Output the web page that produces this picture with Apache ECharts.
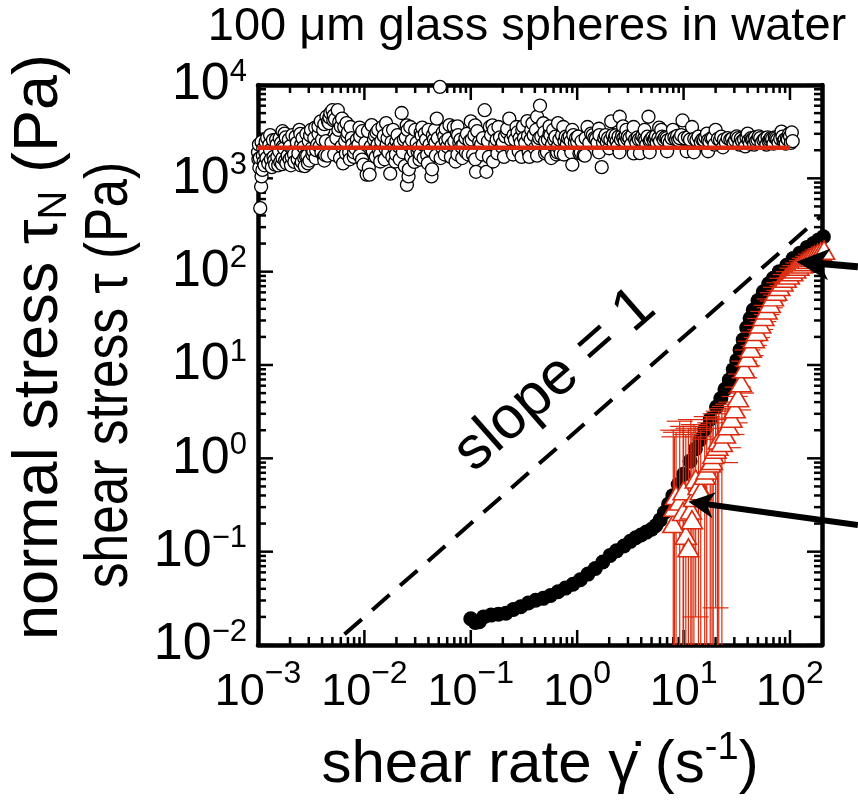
<!DOCTYPE html>
<html lang="en">
<head>
<meta charset="UTF-8">
<title>100 um glass spheres in water</title>
<script src="https://cdn.jsdelivr.net/npm/echarts@6/dist/echarts.min.js"></script>
<style>html, body { margin: 0; padding: 0; background: #fff; }</style>
</head>
<body>
<div id="chart" style="width: 858px; height: 808px"></div>
<script>
  const RED = '#dc2a0e';
  const NARROW = "'Liberation Sans Narrow', 'Liberation Sans', Arial, sans-serif";
  const SANS = "'Liberation Sans', Arial, sans-serif";

  const xRange = [0.001, 200];
  const yRange = [0.01, 10000];
  const xMajor = [0.001, 0.01, 0.1, 1, 10, 100];
  const yMajor = [0.01, 0.1, 1, 10, 100, 1000, 10000];

  // normal stress, open circles [shear rate, stress]
  const normalStress = [
    [0.00100, 1905], [0.00101, 1600], [0.00102, 2300], [0.00103, 1300], [0.00104, 1650], [0.00105, 479],
    [0.00107, 813], [0.00108, 1047], [0.00110, 1230], [0.00108, 2455], [0.00112, 2089], [0.00111, 1750],
    [0.00113, 1500], [0.00115, 1380], [0.00117, 1900], [0.00118, 2455], [0.00120, 1650], [0.00122, 2700],
    [0.00125, 1445], [0.00128, 2300], [0.00130, 2000], [0.00130, 2900], [0.00132, 1600], [0.00135, 1318],
    [0.00138, 2570], [0.00140, 1700], [0.00142, 1550], [0.00145, 1400], [0.00148, 2600], [0.00150, 2300],
    [0.00152, 1700], [0.00155, 1380], [0.00158, 1950], [0.00160, 2692], [0.00162, 1500], [0.00165, 2400],
    [0.00168, 1420], [0.00170, 1650], [0.00170, 3200], [0.00172, 2200], [0.00175, 2100], [0.00178, 3020],
    [0.00180, 1550], [0.00182, 2750], [0.00185, 1450], [0.00190, 1750], [0.00195, 2600], [0.00198, 1600],
    [0.00200, 2200], [0.00204, 1380], [0.00207, 1700], [0.00210, 2900], [0.00215, 1950], [0.00218, 1800],
    [0.00220, 1500], [0.00226, 2800], [0.00232, 2400], [0.00236, 1600], [0.00240, 1850], [0.00245, 3311],
    [0.00250, 3000], [0.00251, 1380], [0.00255, 2300], [0.00258, 1500], [0.00262, 2700], [0.00268, 2150],
    [0.00272, 1650], [0.00275, 1349], [0.00280, 1750], [0.00285, 3000], [0.00290, 1750], [0.00295, 1445],
    [0.00300, 2500], [0.00305, 1550], [0.00309, 2884], [0.00315, 3300], [0.00320, 2100], [0.00325, 1800],
    [0.00331, 1950], [0.00338, 2700], [0.00345, 3500], [0.00348, 1650], [0.00352, 2000], [0.00360, 2300],
    [0.00370, 3000], [0.00370, 3600], [0.00380, 2200], [0.00389, 4074], [0.00395, 1900], [0.00400, 2600],
    [0.00410, 3300], [0.00415, 1700], [0.00420, 1550], [0.00420, 3800], [0.00427, 1778], [0.00435, 2500],
    [0.00440, 4571], [0.00450, 1750], [0.00455, 4074], [0.00465, 3900], [0.00470, 4500], [0.00479, 5012],
    [0.00490, 2400], [0.00501, 5370], [0.00510, 4200], [0.00515, 4700], [0.00520, 1800], [0.00530, 4300],
    [0.00545, 2700], [0.00562, 5370], [0.00570, 3300], [0.00580, 4000], [0.00590, 1650], [0.00600, 3600],
    [0.00610, 2200], [0.00617, 4365], [0.00630, 1445], [0.00646, 3548], [0.00660, 2500], [0.00670, 1850],
    [0.00680, 3900], [0.00692, 2818], [0.00700, 3100], [0.00720, 1900], [0.00730, 1600], [0.00741, 3548],
    [0.00760, 2700], [0.00770, 2300], [0.00794, 1698], [0.00800, 1900], [0.00820, 2100], [0.00850, 2600],
    [0.00880, 2300], [0.00900, 1750], [0.00900, 3500], [0.00912, 2818], [0.0095, 1585], [0.00955, 3200],
    [0.00980, 1400],
    [0.0102, 2400], [0.0105, 1096], [0.0108, 3200], [0.0110, 1300], [0.0112, 1096], [0.0115, 2200],
    [0.0117, 3715], [0.0120, 1950], [0.0123, 2600], [0.0126, 2884], [0.0128, 1700], [0.0130, 3100],
    [0.0133, 2300], [0.0135, 3300], [0.0137, 2000], [0.0140, 1800], [0.0141, 1514], [0.0144, 2500],
    [0.0148, 3548], [0.0152, 2850], [0.0155, 1600], [0.0158, 2089], [0.0160, 3900], [0.0162, 2300],
    [0.0165, 2700], [0.0168, 1900], [0.0170, 3200], [0.0175, 1122], [0.0180, 2450], [0.0183, 1700],
    [0.0186, 3311], [0.0190, 2150], [0.0195, 1514], [0.0198, 1800], [0.0200, 2500], [0.0205, 2900],
    [0.0210, 2200], [0.0215, 1600], [0.0217, 2400], [0.0224, 5012], [0.0230, 1900], [0.0235, 2600],
    [0.0240, 1350], [0.0245, 2750], [0.0250, 3700], [0.0251, 851], [0.0255, 3300], [0.0260, 1047],
    [0.0262, 1250], [0.0265, 2250], [0.0270, 3548], [0.0275, 1700], [0.0280, 2550], [0.0290, 1950],
    [0.0295, 1500], [0.0300, 3300], [0.0310, 2400], [0.0316, 1950], [0.0323, 2100], [0.0330, 1585],
    [0.0335, 1800], [0.0338, 3100], [0.0345, 2884], [0.0350, 3500], [0.0355, 2300], [0.0360, 1650],
    [0.0370, 3020], [0.0380, 2600], [0.0389, 1778], [0.0395, 1450], [0.0400, 3300], [0.0410, 2300],
    [0.0420, 2000], [0.0427, 1047], [0.0432, 1250], [0.0440, 2900], [0.0450, 2600], [0.0460, 3300],
    [0.0465, 2400], [0.0470, 1750], [0.0479, 4365], [0.0490, 2700], [0.0513, 9550], [0.0520, 1650],
    [0.0530, 2188], [0.0545, 3100], [0.0562, 2818], [0.0570, 1800], [0.0580, 2500], [0.0580, 3400],
    [0.0600, 2200], [0.0615, 2650], [0.0631, 3715], [0.0650, 1700], [0.0660, 2300], [0.0692, 3548],
    [0.0700, 2500], [0.0720, 1514], [0.0741, 3020], [0.0750, 1800], [0.0750, 3600], [0.0760, 2900],
    [0.0780, 2400], [0.0800, 2600], [0.0813, 2188], [0.0830, 1650], [0.0850, 2300], [0.0891, 2692],
    [0.0900, 1900], [0.0920, 3000], [0.0950, 1800], [0.0975, 2500],
    [0.100, 4074], [0.102, 2600], [0.105, 1778], [0.108, 2900], [0.110, 1600], [0.110, 3700],
    [0.112, 1175], [0.115, 3200], [0.120, 2455], [0.125, 2300], [0.128, 1800], [0.130, 2700],
    [0.135, 5370], [0.140, 1175], [0.145, 2500], [0.148, 1700], [0.151, 3548], [0.155, 2900],
    [0.160, 3700], [0.162, 1514], [0.165, 3300], [0.170, 2300], [0.175, 2600], [0.178, 1850],
    [0.182, 3548], [0.188, 2750], [0.195, 2188], [0.200, 2400], [0.205, 1700], [0.210, 2818],
    [0.220, 3100], [0.220, 3400], [0.230, 4365], [0.238, 2600], [0.245, 1950], [0.250, 1800],
    [0.252, 2900], [0.260, 2600], [0.269, 3548], [0.275, 3100], [0.282, 1950], [0.288, 2700],
    [0.295, 2400], [0.300, 1700], [0.305, 3300], [0.310, 3600], [0.316, 2700], [0.325, 2400],
    [0.340, 4100], [0.345, 2850], [0.350, 1900], [0.355, 1700], [0.365, 2600], [0.370, 3300],
    [0.380, 3890], [0.390, 2900], [0.400, 2100], [0.410, 3300], [0.420, 4571], [0.420, 1750],
    [0.430, 2450], [0.440, 2700], [0.447, 6026], [0.460, 2800], [0.480, 3890], [0.490, 3100],
    [0.500, 2500], [0.500, 1850], [0.520, 1905], [0.530, 2600], [0.550, 3020], [0.550, 3600],
    [0.560, 2900], [0.570, 1650], [0.580, 2300], [0.595, 3300], [0.607, 2600], [0.625, 2800],
    [0.640, 1800], [0.650, 1900], [0.660, 2200], [0.660, 3900], [0.680, 2600], [0.700, 1862],
    [0.720, 2900], [0.740, 3548], [0.750, 1800], [0.760, 2500], [0.780, 2800], [0.800, 2300],
    [0.820, 2700], [0.850, 2818], [0.870, 2500], [0.880, 1900], [0.900, 1400], [0.900, 3300],
    [0.920, 2900], [0.950, 2400], [0.975, 2700],
    [1.00, 2455], [1.02, 2800], [1.05, 1862], [1.08, 1900], [1.10, 2500], [1.15, 1778],
    [1.18, 1750], [1.20, 2700], [1.25, 3548], [1.30, 2400], [1.35, 3020], [1.40, 2900],
    [1.45, 2700], [1.50, 2650], [1.55, 2400], [1.60, 1900], [1.60, 3400], [1.62, 2900],
    [1.70, 1318], [1.75, 2400], [1.80, 2700], [1.85, 2900], [1.90, 2455], [1.95, 2700],
    [2.00, 2100], [2.05, 2600], [2.09, 4074], [2.15, 2900], [2.20, 2400], [2.25, 2700],
    [2.30, 2884], [2.35, 2500], [2.40, 2200], [2.45, 2800], [2.50, 1900], [2.51, 4571],
    [2.58, 2600], [2.65, 2884], [2.70, 3600], [2.72, 2700], [2.80, 2500], [2.85, 2850],
    [2.90, 3311], [2.95, 2650], [3.00, 2818], [3.10, 2700], [3.20, 2300], [3.30, 2900],
    [3.39, 3548], [3.40, 1850], [3.50, 2600], [3.60, 2400], [3.70, 2750], [3.80, 2600],
    [3.89, 1862], [4.00, 2600], [4.10, 2850], [4.27, 2700], [4.30, 3300], [4.37, 2550],
    [4.47, 2300], [4.58, 2800], [4.68, 4571], [4.80, 2500], [4.80, 1900], [4.90, 2600],
    [5.10, 2750], [5.25, 2550], [5.37, 2692], [5.50, 2850], [5.60, 2400], [5.80, 2700],
    [5.90, 3500], [6.00, 2500], [6.17, 3311], [6.30, 2800], [6.50, 2600], [6.70, 2750],
    [6.92, 2692], [7.00, 1950], [7.10, 2550], [7.40, 2400], [7.70, 2700], [7.94, 3311],
    [8.20, 2750], [8.50, 2600], [8.70, 2850], [8.91, 2570], [9.20, 2700], [9.50, 2900],
    [9.77, 4169],
    [10.2, 2700], [10.7, 1950], [11.0, 2750], [11.5, 2600], [12.0, 3548], [12.5, 1900],
    [12.6, 2650], [13.2, 2570], [13.8, 2800], [14.5, 2450], [15.0, 2600], [15.5, 2570],
    [16.0, 2750], [16.6, 3020], [17.0, 2550], [17.0, 1950], [17.5, 2450], [18.2, 2692],
    [18.8, 2700], [19.5, 2300], [20.0, 3311], [21.0, 2650], [22.0, 2570], [22.6, 2800],
    [23.4, 2150], [24.0, 2600], [25.0, 2400], [26.0, 2700], [27.5, 2600], [28.5, 2650],
    [29.5, 2400], [30.5, 2550], [31.6, 2818], [32.5, 2700], [33.5, 2300], [34.5, 2650],
    [35.5, 2500], [37.0, 2600], [38.0, 2200], [39.0, 2750], [40.0, 3020], [41.0, 2550],
    [42.0, 2350], [43.0, 2700], [44.0, 2600], [45.0, 2650], [46.0, 2300], [47.0, 2750],
    [48.0, 2500], [49.5, 2600], [51.0, 2818], [52.5, 2700], [54.0, 2400], [56.2, 2570],
    [58.0, 2650], [60.0, 2300], [61.5, 2750], [63.0, 2500], [64.5, 2600], [66.0, 2700],
    [68.0, 2650], [70.0, 2350], [72.0, 2750], [74.1, 2692], [76.0, 2600], [78.0, 2400],
    [81.0, 2650], [83.2, 3162], [85.0, 2800], [87.0, 2500], [89.0, 2600], [91.2, 2350],
    [93.5, 2700], [95.5, 2600], [98.0, 3000], [100, 2818], [102, 2400], [104, 3100], [106, 2500]
  ];

  const normalFit = [[0.001, 2130], [100, 2130]];

  // shear stress, filled circles [shear rate, stress]
  const shearStress = [
    [0.100, 0.0191], [0.110, 0.0174], [0.120, 0.0178], [0.132, 0.0200], [0.155, 0.0209], [0.182, 0.0214],
    [0.214, 0.0219], [0.251, 0.0240], [0.295, 0.0257], [0.347, 0.0282], [0.407, 0.0302], [0.479, 0.0316],
    [0.562, 0.0339], [0.661, 0.0372], [0.776, 0.0407], [0.912, 0.0447], [1.07, 0.0501], [1.26, 0.0575],
    [1.48, 0.0661], [1.74, 0.0776], [2.04, 0.0912], [2.34, 0.102], [2.75, 0.115], [3.16, 0.129],
    [3.55, 0.141], [3.98, 0.151], [4.47, 0.162], [5.01, 0.174], [5.50, 0.191], [6.03, 0.219],
    [6.61, 0.263], [7.24, 0.324], [7.94, 0.398], [8.91, 0.525], [10.0, 0.676], [11.5, 0.933],
    [12.9, 1.26], [14.3, 1.58], [15.8, 2.04], [17.8, 2.63], [20.4, 3.55], [22.4, 4.37],
    [24.5, 5.50], [26.9, 6.92], [29.3, 8.91], [31.6, 11.2], [33.9, 14.5], [36.3, 18.6],
    [39.2, 25.1], [42.2, 31.6], [45.2, 38.9], [50.1, 49.0], [56.2, 61.0], [63.1, 74.1],
    [69.7, 85.1], [79.4, 100], [93.1, 117], [107, 138], [124, 158], [145, 182],
    [166, 200], [186, 219], [206, 237]
  ];

  // normal stress, triangles [shear rate, stress, low, high]
  const redTriangles = [
    [8.0, 0.20, 0.001, 2.0], [8.2, 0.30, 0.001, 1.7], [8.5, 0.40, 0.001, 1.9], [9.2, 0.35, 0.001, 2.5],
    [9.9, 0.27, 0.001, 2.2], [10.0, 0.45, 0.001, 2.0], [10.5, 0.15, 0.001, 1.8], [11.1, 0.11, 0.001, 2.1],
    [11.7, 0.28, 0.001, 2.6], [12.0, 0.22, 0.001, 1.9], [12.5, 0.38, 0.001, 2.3], [13.0, 0.60, 0.02, 2.2],
    [13.8, 0.51, 0.001, 1.7], [14.5, 0.45, 0.001, 2.0], [15.8, 0.66, 0.001, 1.6], [16.5, 0.75, 0.001, 2.8],
    [17.8, 0.89, 0.001, 2.4], [18.5, 0.95, 0.001, 2.1], [19.0, 1.10, 0.001, 2.6], [20.0, 1.25, 0.025, 3.0],
    [20.8, 1.35, 0.001, 2.7], [21.4, 1.57, 0.001, 3.2], [22.9, 1.48, 0.001, 3.4], [24.5, 1.82, 0.9, 3.6],
    [26.3, 2.24, 1.3, 3.8], [28.2, 2.69, 1.8, 4.0], [30.2, 3.39, 2.4, 4.6], [32.4, 4.47, 3.3, 5.8],
    [34.7, 6.46, 5.0, 8.0], [37.2, 9.12, 7.3, 11.0], [39.8, 12.0, 9.8, 14.5], [42.7, 15.1, 12.6, 18.0],
    [45.7, 19.1, 16.2, 22.5], [49.0, 22.9, 19.7, 26.6], [52.5, 27.5, 24.0, 31.5], [56.2, 33.1, 29.2, 37.5],
    [60.3, 38.9, 34.7, 43.6], [64.6, 45.7, 41.0, 51.0], [69.2, 53.7, 48.5, 59.5], [74.1, 61.7, 56.0, 68.0],
    [79.4, 69.2, 63.0, 76.0], [85.1, 77.6, 71.0, 85.0], [91.2, 85.0, 78.0, 93.0], [97.7, 92.0, 85.0, 100],
    [105, 100, 92.0, 109], [112, 107, 99.0, 116], [120, 114, 105, 124], [129, 121, 112, 131],
    [138, 128, 118, 139], [148, 135, 125, 146], [158, 142, 131, 154], [170, 150, 139, 162],
    [182, 157, 145, 170], [195, 163, 151, 176], [209, 170, 157, 184]
  ];

  const slopeLine = [[0.0065, 0.013], [200, 400]];

  // frame ticks: x ticks [v, 1, 0, major], y ticks [1, v, 1, major]
  const frameTicks = [];
  function addTicks(majors, limit, isY) {
    majors.forEach(d => {
      frameTicks.push(isY ? [1, d, 1, 1] : [d, 1, 0, 1]);
      for (let m = 2; m <= 9; m++) {
        const v = d * m;
        if (v < limit) frameTicks.push(isY ? [1, v, 1, 0] : [v, 1, 0, 0]);
      }
    });
  }
  addTicks(xMajor, xRange[1], false);
  addTicks(yMajor, yRange[1], true);

  function renderTicks(params, api) {
    const isY = api.value(2);
    const len = api.value(3) ? 15 : 8;
    let segs;
    if (!isY) {
      const v = api.value(0);
      const a = api.coord([v, yRange[0]]), b = api.coord([v, yRange[1]]);
      segs = [[a[0], a[1], a[0], a[1] - len], [b[0], b[1], b[0], b[1] + len]];
    } else {
      const v = api.value(1);
      const a = api.coord([xRange[0], v]), b = api.coord([xRange[1], v]);
      segs = [[a[0], a[1], a[0] + len, a[1]], [b[0], b[1], b[0] - len, b[1]]];
    }
    return {
      type: 'group',
      children: segs.map(s => ({
        type: 'line',
        shape: { x1: s[0], y1: s[1], x2: s[2], y2: s[3] },
        style: { stroke: '#000', lineWidth: 2.5 }
      }))
    };
  }

  function renderErr(params, api) {
    const x = api.value(0);
    const lo = api.coord([x, api.value(2)]);
    const hi = api.coord([x, api.value(3)]);
    const w = 13;
    const st = { stroke: RED, lineWidth: 1.2 };
    return {
      type: 'group',
      children: [
        { type: 'line', shape: { x1: lo[0], y1: lo[1], x2: hi[0], y2: hi[1] }, style: st },
        { type: 'line', shape: { x1: hi[0] - w, y1: hi[1], x2: hi[0] + w, y2: hi[1] }, style: st },
        { type: 'line', shape: { x1: lo[0] - w, y1: lo[1], x2: lo[0] + w, y2: lo[1] }, style: st }
      ]
    };
  }

  function powLabel(v) {
    const e = Math.round(Math.log10(v));
    if (Math.abs(Math.log10(v) - e) > 0.01) return '';
    return '{b|10}{s|' + (e < 0 ? '\u2212' + (-e) : e) + '}';
  }

  const chart = echarts.init(document.getElementById('chart'));

  const axisLine = { show: true, onZero: false, lineStyle: { color: '#000', width: 4.5 } };
  const plainAxis = {
    type: 'log', logBase: 10, axisLine: axisLine,
    axisTick: { show: false }, axisLabel: { show: false }, splitLine: { show: false }
  };

  const option = {
    animation: false,
    backgroundColor: '#fff',
    grid: { left: 258, right: 36, top: 85, bottom: 163, containLabel: false, outerBoundsMode: 'none' },
    xAxis: [
      Object.assign({}, plainAxis, {
        min: xRange[0], max: xRange[1], position: 'bottom',
        axisLabel: {
          show: true, margin: 13, formatter: powLabel,
          rich: {
            b: { fontSize: 45, fontFamily: NARROW, lineHeight: 70, color: '#000' },
            s: { fontSize: 32, fontFamily: NARROW, lineHeight: 32, verticalAlign: 'top', color: '#000' }
          }
        },
        name: '{a|shear rate \u03b3\u0307 (s}{s|-1}{a|)}',
        nameLocation: 'middle', nameGap: 85,
        nameTextStyle: {
          rich: {
            a: { fontSize: 60, fontFamily: SANS, lineHeight: 70, color: '#000' },
            s: { fontSize: 38, fontFamily: SANS, lineHeight: 36, verticalAlign: 'top', color: '#000' }
          }
        }
      }),
      Object.assign({}, plainAxis, { min: xRange[0], max: xRange[1], position: 'top' })
    ],
    yAxis: [
      Object.assign({}, plainAxis, {
        min: yRange[0], max: yRange[1], position: 'left',
        axisLabel: {
          show: true, margin: 11, formatter: powLabel,
          rich: {
            b: { fontSize: 52, fontFamily: NARROW, lineHeight: 57, color: '#000' },
            s: { fontSize: 31, fontFamily: NARROW, lineHeight: 32, verticalAlign: 'top', color: '#000' }
          }
        }
      }),
      Object.assign({}, plainAxis, { min: yRange[0], max: yRange[1], position: 'right' })
    ],
    series: [
      {
        type: 'custom', name: 'ticks', renderItem: renderTicks, data: frameTicks,
        encode: { x: 0, y: 1 }, clip: false, silent: true, z: 1
      },
      {
        type: 'scatter', name: 'normal stress', data: normalStress, symbol: 'circle', symbolSize: 13,
        itemStyle: { color: '#fff', borderColor: '#000', borderWidth: 1.3, opacity: 1 }, clip: false, z: 2
      },
      {
        type: 'line', name: 'fit', data: normalFit, symbol: 'none',
        lineStyle: { color: RED, width: 4.5 }, z: 3
      },
      {
        type: 'line', name: 'slope 1', data: slopeLine, symbol: 'none',
        lineStyle: { color: '#000', width: 4, type: [23, 14] }, z: 3
      },
      {
        type: 'scatter', name: 'shear stress', data: shearStress, symbol: 'circle', symbolSize: 15,
        itemStyle: { color: '#000', opacity: 1 }, clip: false, z: 4
      },
      {
        type: 'custom', name: 'error bars', renderItem: renderErr, data: redTriangles,
        encode: { x: 0, y: 1 }, clip: true, z: 5
      },
      {
        type: 'scatter', name: 'normal stress 2', data: redTriangles, symbol: 'triangle', symbolSize: [21, 18],
        encode: { x: 0, y: 1 },
        itemStyle: { color: '#fff', borderColor: RED, borderWidth: 1.6, opacity: 1 }, clip: false, z: 6
      }
    ]
  };
  chart.setOption(option);

  const px = p => chart.convertToPixel({ xAxisIndex: 0, yAxisIndex: 0 }, p);

  function arrow(tipV, tailV, headLen, halfW, lw) {
    const t = px(tipV), s = px(tailV);
    const dx = s[0] - t[0], dy = s[1] - t[1], L = Math.hypot(dx, dy);
    const ux = dx / L, uy = dy / L, nx = -uy, ny = ux;
    const base = [t[0] + ux * headLen, t[1] + uy * headLen];
    const notch = [t[0] + ux * headLen * 0.72, t[1] + uy * headLen * 0.72];
    return [
      { type: 'line', z: 100, shape: { x1: notch[0], y1: notch[1], x2: s[0], y2: s[1] },
        style: { stroke: '#000', lineWidth: lw } },
      { type: 'polygon', z: 100,
        shape: { points: [t, [base[0] + nx * halfW, base[1] + ny * halfW], notch, [base[0] - nx * halfW, base[1] - ny * halfW]] },
        style: { fill: '#000' } }
    ];
  }

  const slopePos = px([0.62, 6.9]);
  const slopeAngle = Math.atan2(px([1, 1])[1] - px([10, 10])[1], px([10, 10])[0] - px([1, 1])[0]);

  chart.setOption({
    graphic: [].concat(
      arrow([115, 128], [435, 113], 33, 16, 7),
      arrow([11.1, 0.343], [435, 0.193], 26, 13, 6),
      [
        { type: 'text', x: 527, y: 27, z: 100,
          style: { text: '100 \u03bcm glass spheres in water', font: '47px ' + SANS, fill: '#000',
            textAlign: 'center', textVerticalAlign: 'middle' } },
        { type: 'text', x: slopePos[0], y: slopePos[1], rotation: slopeAngle, z: 100,
          style: { text: 'slope = 1', font: '60px ' + NARROW, fill: '#000',
            textAlign: 'center', textVerticalAlign: 'middle' } },
        { type: 'text', x: 110, y: 375, rotation: Math.PI / 2, scaleX: 0.83, z: 100,
          style: { text: 'shear stress \u03c4 (Pa)', font: '62px ' + SANS, fill: '#000',
            textAlign: 'center', textVerticalAlign: 'middle' } },
        { type: 'text', x: 40, y: 347, rotation: Math.PI / 2, z: 100,
          style: {
            text: '{a|normal stress \u03c4}{n|N}{a| (Pa)}',
            textAlign: 'center', textVerticalAlign: 'middle',
            rich: {
              a: { fontSize: 63, fontFamily: NARROW, color: RED, lineHeight: 70 },
              n: { fontSize: 40, fontFamily: NARROW, color: RED, lineHeight: 40, verticalAlign: 'bottom' }
            }
          } }
      ]
    )
  });
</script>
</body>
</html>
